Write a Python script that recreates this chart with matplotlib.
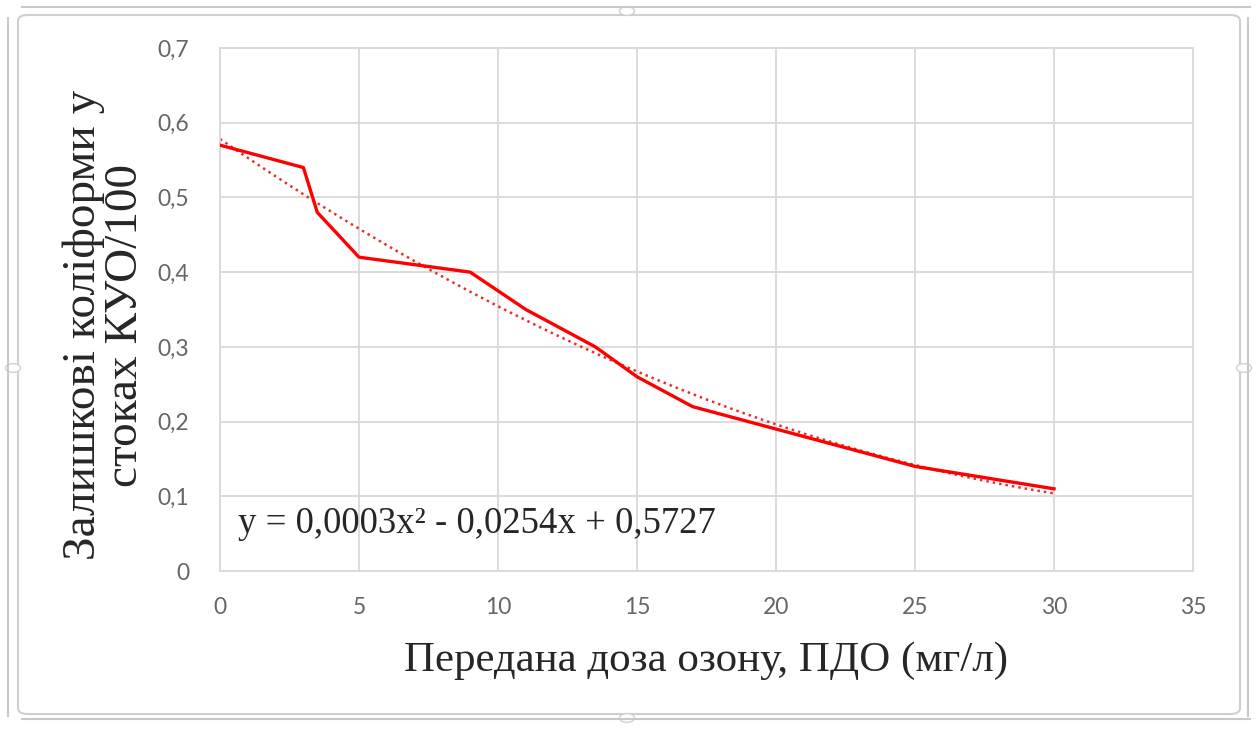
import numpy as np
import matplotlib.pyplot as plt
from matplotlib.patches import FancyBboxPatch, Circle
from matplotlib.lines import Line2D

# ozone dose (mg/l) and residual coliforms
dose = [0, 3, 3.5, 5, 9, 11, 13.5, 15, 17, 20, 25, 30]
coli = [0.57, 0.54, 0.48, 0.42, 0.40, 0.35, 0.30, 0.26, 0.22, 0.19, 0.14, 0.11]
x_ticks = [0, 5, 10, 15, 20, 25, 30, 35]
y_ticks = [0, 0.1, 0.2, 0.3, 0.4, 0.5, 0.6, 0.7]
y_ticklabels = ['0', '0,1', '0,2', '0,3', '0,4', '0,5', '0,6', '0,7']
eq_text = 'y = 0,0003x² - 0,0254x + 0,5727'

fig = plt.figure(figsize=(12.58, 7.29), dpi=100)
ax = fig.add_axes([220/1258, 1 - 571/729, 973/1258, 523/729])

grid_c = '#d9d9d9'
ax.plot(dose, coli, color='#ff0000', lw=2.4, zorder=3)

# second order trendline over the measured range
coef = np.polyfit(dose, coli, 2)
xs = np.linspace(0, 30, 200)
ax.plot(xs, np.polyval(coef, xs), color='#e8302a', lw=1.8, ls=(0, (1, 1.6)), zorder=2)

ax.set_xlim(0, 35)
ax.set_ylim(0, 0.7)
ax.set_xticks(x_ticks)
ax.set_yticks(y_ticks)
ax.set_yticklabels(y_ticklabels)
ax.grid(True, color=grid_c, lw=1.3)
ax.set_axisbelow(True)
for s in ax.spines.values():
    s.set_color(grid_c)
    s.set_linewidth(1.3)
ax.tick_params(length=0, labelsize=16.5, labelcolor='#666666')
ax.tick_params(axis='y', pad=22)
ax.tick_params(axis='x', pad=19)
for lab in ax.get_xticklabels() + ax.get_yticklabels():
    lab.set_family('Lato')

serif = 'Liberation Serif'
ax.set_xlabel('Передана доза озону, ПДО (мг/л)', family=serif, fontsize=31, color='#262626')
ax.xaxis.set_label_coords(0.5, -0.135)
ax.set_ylabel('Залишкові коліформи у\nстоках КУО/100', family=serif, fontsize=34,
              color='#262626', linespacing=1.0)
ax.yaxis.set_label_coords(-0.075, 0.47)

ax.text(0.65, 0.063, eq_text, family=serif, fontsize=26.5, color='#262626', va='center', zorder=4)

# chart frame with selection handles
frame = FancyBboxPatch((18/1258, 1 - 714/729), 1222/1258, 699/729,
                       boxstyle='round,pad=0,rounding_size=0.008',
                       transform=fig.transFigure, fill=False, ec='#cfcfcf', lw=1.5)
fig.patches.append(frame)
for xy in [((22/1258, 1250/1258), (1 - 7/729, 1 - 7/729)),
           ((22/1258, 1250/1258), (1 - 719/729, 1 - 719/729)),
           ((8/1258, 8/1258), (1 - 18/729, 1 - 716/729)),
           ((1248/1258, 1248/1258), (1 - 18/729, 1 - 716/729))]:
    fig.lines.append(Line2D(xy[0], xy[1], transform=fig.transFigure, color='#c8c8c8', lw=1.5))
for hx, hy in [(627, 11), (627, 718), (13, 368), (1244, 368)]:
    fig.patches.append(Circle((hx/1258, 1 - hy/729), 0.006, transform=fig.transFigure,
                              fc='white', ec='#d0d0d0', lw=1))

fig.savefig('out.png', dpi=100, facecolor='white')
